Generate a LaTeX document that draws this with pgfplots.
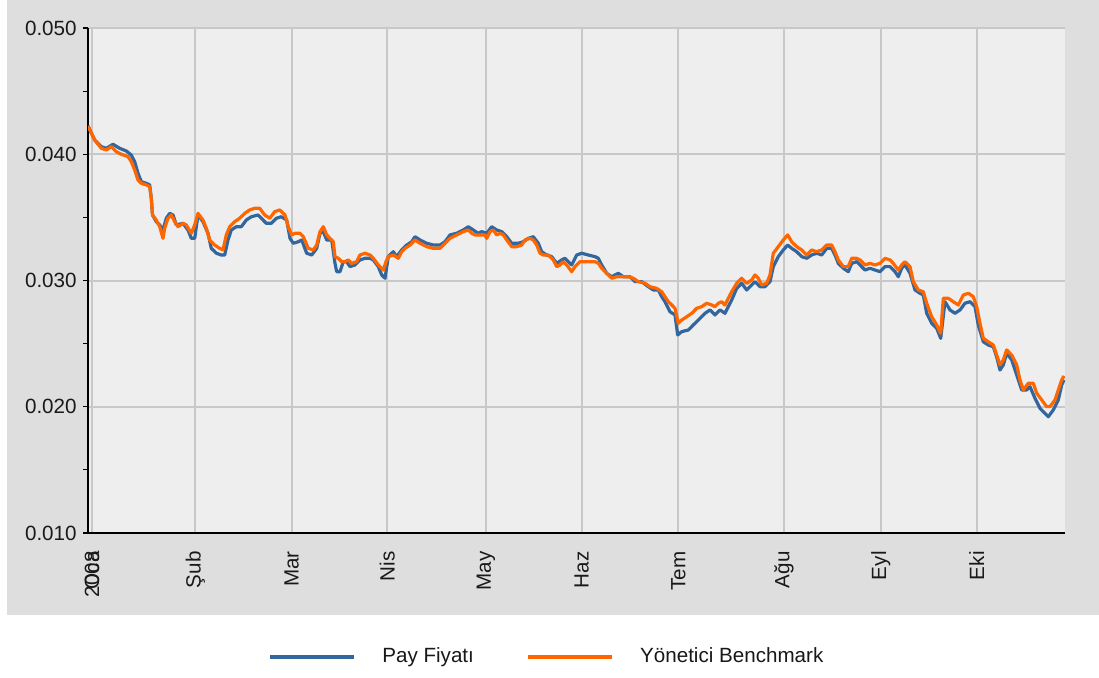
\documentclass[border=0pt]{standalone}
\usepackage{fontspec}
\setmainfont{Liberation Sans}
\usepackage{pgfplots}
\usepackage{pgfplotstable}
\pgfplotsset{compat=1.18}
\definecolor{outerbg}{RGB}{222,222,222}
\definecolor{plotbg}{RGB}{238,238,238}
\definecolor{gridc}{RGB}{200,200,200}
\definecolor{payblue}{RGB}{52,102,158}
\definecolor{benchorange}{RGB}{255,102,0}

\pgfplotstableread{
x v
-2 0.04224
4.7 0.04113
11.3 0.04060
16.3 0.04047
23 0.04079
29.7 0.04047
36.3 0.04026
41.3 0.03994
44.7 0.03941
48 0.03849
51.3 0.03783
56.3 0.03770
59.7 0.03757
61.3 0.03651
62.5 0.03519
66.3 0.03466
69.7 0.03440
73 0.03400
76.3 0.03493
79.7 0.03532
83 0.03519
86.3 0.03440
93 0.03453
98 0.03400
101.3 0.03334
104.7 0.03334
108 0.03519
113 0.03466
118 0.03374
121.3 0.03255
126.3 0.03216
131.3 0.03202
134.7 0.03202
138 0.03321
141.3 0.03400
146.3 0.03426
151.3 0.03426
156.3 0.03479
161.3 0.03505
168 0.03519
171.3 0.03493
176.3 0.03453
181.3 0.03453
186.3 0.03493
191.3 0.03505
196.7 0.03479
200 0.03334
203.3 0.03295
208.3 0.03307
211.7 0.03321
216.7 0.03216
221.7 0.03202
226.7 0.03255
230 0.03374
233.3 0.03387
236.7 0.03321
241.7 0.03321
245 0.03136
246.7 0.03070
250 0.03070
253.3 0.03149
256.7 0.03149
260 0.03110
265 0.03123
270 0.03163
275 0.03176
280 0.03176
283.3 0.03163
288.3 0.03110
291.7 0.03044
295 0.03018
298.3 0.03189
303.3 0.03228
306.7 0.03189
311.7 0.03242
316.7 0.03281
321.7 0.03307
325 0.03347
330 0.03321
336.7 0.03295
343.3 0.03281
350 0.03281
355 0.03307
360 0.03361
366.7 0.03374
373.3 0.03400
378.3 0.03426
383.3 0.03400
388 0.03374
391.7 0.03387
396.7 0.03374
401.7 0.03426
406.7 0.03400
411.7 0.03387
416.7 0.03347
421.7 0.03295
428.3 0.03295
433.3 0.03307
438.3 0.03334
443.3 0.03347
448.3 0.03295
451.7 0.03228
456.7 0.03202
461.7 0.03189
466.7 0.03136
471.7 0.03163
475 0.03176
481.7 0.03123
486.7 0.03202
491.7 0.03216
498.3 0.03202
505 0.03189
508.3 0.03176
511.7 0.03123
516.7 0.03057
521.7 0.03030
528.3 0.03057
533.3 0.03030
540 0.03030
545 0.02991
551.7 0.02991
558.3 0.02951
563.3 0.02925
568.3 0.02925
571.7 0.02872
575 0.02832
580 0.02753
585 0.02727
587.7 0.02569
591.7 0.02595
598.3 0.02608
603.3 0.02648
608.3 0.02687
615 0.02740
620 0.02767
625 0.02727
630 0.02767
635 0.02740
638.3 0.02793
641.7 0.02846
646.7 0.02938
651.7 0.02978
656.7 0.02925
661.7 0.02965
665 0.02991
670 0.02951
675 0.02951
680 0.02991
683.3 0.03110
688.3 0.03189
693.3 0.03242
697.7 0.03281
701.7 0.03255
706.7 0.03228
711.7 0.03189
716.7 0.03176
721.7 0.03202
726.7 0.03216
731.7 0.03202
736.7 0.03255
741.7 0.03255
745 0.03202
748.3 0.03136
753.3 0.03097
758.3 0.03070
761.7 0.03136
766.7 0.03149
770 0.03123
775 0.03083
780 0.03097
785 0.03083
790 0.03070
795 0.03110
800 0.03110
805 0.03070
808.3 0.03030
811.7 0.03097
815 0.03123
820 0.03057
825 0.02925
830 0.02899
833.3 0.02885
836.7 0.02740
841.7 0.02661
846.7 0.02622
850.7 0.02542
855 0.02832
860 0.02767
865 0.02740
870 0.02767
875 0.02820
880 0.02832
885 0.02793
888.3 0.02648
893.3 0.02515
898.3 0.02489
903.3 0.02476
906.7 0.02394
910 0.02291
913.3 0.02331
916.7 0.02424
921.7 0.02371
926.7 0.02252
931.7 0.02133
936.7 0.02133
940 0.02159
945 0.02067
950 0.01988
955 0.01948
958.3 0.01921
963.3 0.01975
968.3 0.02054
971.7 0.02173
974 0.02212
}\paytable

\pgfplotstableread{
x v
-2 0.04224
4.7 0.04113
11.3 0.04047
16.3 0.04034
21.3 0.04060
26.3 0.04020
31.3 0.04000
38 0.03981
41.3 0.03941
44.7 0.03875
48 0.03796
51.3 0.03770
56.3 0.03757
59.7 0.03743
61.3 0.03651
62.5 0.03519
66.3 0.03479
69.7 0.03426
73 0.03334
74.7 0.03414
78 0.03493
81.3 0.03519
84.7 0.03466
88 0.03426
93 0.03453
96.3 0.03440
101.3 0.03374
104.7 0.03440
108 0.03532
113 0.03479
116.3 0.03414
119.7 0.03321
124.7 0.03281
129.7 0.03255
133 0.03242
136.3 0.03361
139.7 0.03426
144.7 0.03466
149.7 0.03493
154.7 0.03532
159.7 0.03559
164.7 0.03572
169.7 0.03572
174.7 0.03519
179.7 0.03493
184.7 0.03545
189.7 0.03559
195 0.03519
198.3 0.03426
201.7 0.03361
205 0.03374
210 0.03374
213.3 0.03347
218.3 0.03255
223.3 0.03242
226.7 0.03281
230 0.03387
233.3 0.03426
236.7 0.03361
240 0.03334
243.3 0.03307
245 0.03189
248.3 0.03176
251.7 0.03149
255 0.03149
258.3 0.03163
261.7 0.03136
266.7 0.03149
270 0.03202
275 0.03216
280 0.03202
283.3 0.03176
288.3 0.03123
293.3 0.03083
296 0.03149
298.3 0.03189
303.3 0.03202
308.3 0.03176
311.7 0.03228
315 0.03255
320 0.03281
325 0.03321
330 0.03295
336.7 0.03268
343.3 0.03255
350 0.03255
355 0.03295
360 0.03334
366.7 0.03361
373.3 0.03387
378.3 0.03400
381.7 0.03374
385 0.03361
390 0.03361
395 0.03361
396.7 0.03334
400 0.03387
403.3 0.03400
406.7 0.03361
410 0.03374
413.3 0.03361
416.7 0.03321
421.7 0.03268
426.7 0.03268
431.7 0.03281
435 0.03321
440 0.03334
443.3 0.03321
446.7 0.03281
450 0.03216
453.3 0.03202
458.3 0.03202
463.3 0.03163
466.7 0.03110
470 0.03123
473.3 0.03149
476.7 0.03123
481.7 0.03070
485 0.03110
490 0.03149
495 0.03149
500 0.03149
505 0.03149
508.3 0.03136
511.7 0.03097
516.7 0.03057
521.7 0.03018
526.7 0.03030
531.7 0.03030
538.3 0.03030
543.3 0.03018
548.3 0.02991
555 0.02978
560 0.02951
566.7 0.02938
571.7 0.02911
575 0.02872
578.3 0.02832
580 0.02820
585 0.02780
588.3 0.02661
591.7 0.02687
596.7 0.02713
601.7 0.02740
606.7 0.02780
611.7 0.02793
616.7 0.02820
621.7 0.02806
625 0.02793
628.3 0.02820
631.7 0.02832
635 0.02806
638.3 0.02859
641.7 0.02911
646.7 0.02978
651.7 0.03018
656.7 0.02978
661.7 0.03004
665 0.03044
668.3 0.03018
671.7 0.02965
676.7 0.02978
680 0.03044
683.3 0.03216
688.3 0.03268
693.3 0.03321
697.7 0.03361
701.7 0.03307
706.7 0.03268
711.7 0.03242
716.7 0.03202
721.7 0.03242
726.7 0.03228
731.7 0.03242
736.7 0.03281
741.7 0.03281
745 0.03228
748.3 0.03163
753.3 0.03110
758.3 0.03110
761.7 0.03176
766.7 0.03176
770 0.03163
775 0.03123
780 0.03136
785 0.03123
790 0.03136
795 0.03176
800 0.03163
803.3 0.03136
808.3 0.03083
811.7 0.03123
815 0.03149
820 0.03110
823.3 0.02991
828.3 0.02925
833.3 0.02911
836.7 0.02820
841.7 0.02713
846.7 0.02648
850.7 0.02582
853.3 0.02859
858.3 0.02859
863.3 0.02832
868.3 0.02806
873.3 0.02885
878.3 0.02899
883.3 0.02872
886.7 0.02793
890 0.02661
893.3 0.02542
898.3 0.02515
903.3 0.02489
906.7 0.02410
910 0.02331
913.3 0.02371
916.7 0.02450
921.7 0.02410
926.7 0.02331
930 0.02212
933.3 0.02133
938.3 0.02186
943.3 0.02186
946.7 0.02107
951.7 0.02054
956.7 0.02001
960 0.02001
965 0.02054
968.3 0.02133
971.7 0.02212
974 0.02244
}\benchtable

\begin{document}
\begin{tikzpicture}[font=\fontsize{10.3}{12.4}\selectfont]
\fill[white] (0,0) rectangle (549.5pt,338.5pt);
\fill[outerbg] (3.5pt,31pt) rectangle (549.5pt,338.5pt);
\begin{axis}[
  at={(44pt,72pt)}, anchor=south west,
  width=488.5pt, height=252.5pt, scale only axis,
  xmin=-2, xmax=975, ymin=0.010, ymax=0.050,
  axis background/.style={fill=plotbg},
  axis x line*=bottom, axis y line*=left,
  axis line style={black, line width=1pt},
  xtick={2,105.3,201.7,297.3,396,491.7,588.3,694,790.7,886.7},
  xticklabels={2008,Şub,Mar,Nis,May,Haz,Tem,Ağu,Eyl,Eki},
  extra x ticks={2}, extra x tick labels={Oca},
  extra x tick style={grid=none},
  ytick={0.01,0.02,0.03,0.04,0.05},
  minor y tick num=1,
  scaled y ticks=false,
  yticklabel style={/pgf/number format/fixed, /pgf/number format/fixed zerofill,
    /pgf/number format/precision=3, /pgf/number format/assume math mode=true,
    inner sep=0pt},
  yticklabel shift=3pt,
  xticklabel style={rotate=90, anchor=east, inner sep=0pt},
  xticklabel shift=6.5pt,
  tick label style={font=\fontsize{10.3}{12.4}\selectfont, text=black!90},
  xmajorgrids, ymajorgrids,
  major grid style={gridc, line width=1pt},
  tick align=outside,
  major tick length=2.5pt, minor tick length=2.5pt,
  ytick style={black, line width=0.6pt},
  xtick style={draw=none},
  legend columns=2,
  legend style={at={(0.184,-0.2455)}, anchor=west, draw=none, fill=none,
    inner sep=0pt, font=\fontsize{10.3}{12.4}\selectfont, text=black!90,
    nodes={inner sep=0pt},
    /tikz/every even column/.append style={column sep=26pt},
    /tikz/every odd column/.append style={column sep=13.5pt}},
  legend image code/.code={\draw[#1] (0pt,0pt) -- (42pt,0pt);},
  clip=true,
]
\addplot[payblue, line width=1.6pt, line join=round] table[x=x, y=v] {\paytable};
\addlegendentry{Pay Fiyatı}
\addplot[benchorange, line width=1.6pt, line join=round] table[x=x, y=v] {\benchtable};
\addlegendentry{Yönetici Benchmark}
\end{axis}
\pgfresetboundingbox
\path (0,0) rectangle (549.5pt,338.5pt);
\end{tikzpicture}
\end{document}
